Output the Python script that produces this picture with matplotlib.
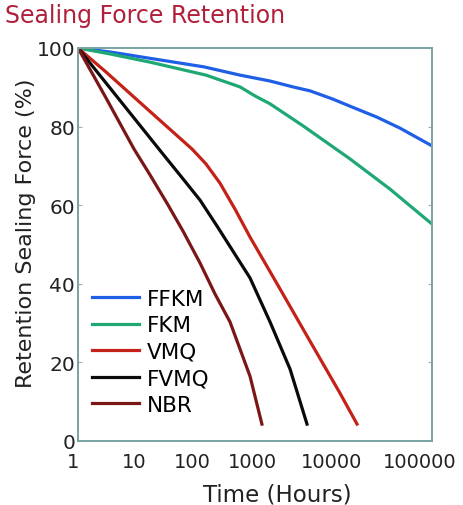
import numpy as np
import matplotlib
matplotlib.use("Agg")
import matplotlib.pyplot as plt
from matplotlib.transforms import ScaledTranslation

# ── data ───────────────────────────────────────────────────────────────────
ffkm_h = [1, 3.7, 13.7, 158, 631, 1680, 3250, 5310, 10200, 15100, 28200, 47900, 100000]
ffkm_v = [100, 99.0, 97.7, 95.2, 93.1, 91.6, 90.1, 89.1, 87.0, 85.2, 82.4, 79.6, 75.1]

fkm_h = [1, 3.7, 18.9, 171, 631, 1090, 1680, 4340, 15100, 38000, 100000]
fkm_v = [100, 98.5, 96.4, 93.1, 90.1, 87.8, 85.8, 80.2, 71.8, 64.1, 55.2]

vmq_h = [1, 3.16, 10, 31.6, 100, 171, 293, 521, 926, 2240, 5310, 12000, 17800]
vmq_v = [100, 93.9, 87.5, 80.9, 74.3, 70.5, 65.6, 59.0, 51.9, 38.7, 25.4, 12.2, 4.3]

fvmq_h = [1, 3.16, 10, 31.6, 70, 136, 261, 482, 926, 1680, 2990, 4870]
fvmq_v = [100, 91.1, 82.2, 73.0, 66.7, 61.3, 54.7, 48.3, 41.5, 30.3, 18.3, 4.3]

nbr_h = [1, 3.16, 10, 18.9, 38.5, 70, 136, 242, 430, 926, 1330]
nbr_v = [100, 87.3, 74.3, 67.7, 60.1, 53.4, 45.3, 37.4, 30.3, 16.5, 4.3]

x_ticks = [1, 10, 100, 1000, 10000, 100000]
x_ticklabels = ["1", "10", "100", "1000", "10000", "100000"]
y_ticks = [0, 20, 40, 60, 80, 100]

# ── decade spacing of the original axis (uneven, stretched on the right) ──
DEC = np.array([-5, 0, 1, 2, 3, 4, 5, 10], dtype=float)
POS = np.array([-280, 0, 56, 114, 174, 254, 354, 854], dtype=float)

def fwd(x):
    x = np.clip(np.asarray(x, dtype=float), 1e-12, None)
    return np.interp(np.log10(x), DEC, POS)

def inv(p):
    return 10 ** np.interp(np.asarray(p, dtype=float), POS, DEC)

series = [
    ("FFKM", ffkm_h, ffkm_v, "#1f5fe6"),
    ("FKM",  fkm_h,  fkm_v,  "#1fa874"),
    ("VMQ",  vmq_h,  vmq_v,  "#c42219"),
    ("FVMQ", fvmq_h, fvmq_v, "#0a0a0a"),
    ("NBR",  nbr_h,  nbr_v,  "#7a1616"),
]

fig = plt.figure(figsize=(4.64, 5.06), dpi=100)
ax = fig.add_axes([78 / 464, 1 - 442 / 506, 354 / 464, 393 / 506])

for name, h, v, c in series:
    ax.plot(h, v, color=c, linewidth=2.3, label=name, solid_joinstyle="round")

ax.set_xscale("function", functions=(fwd, inv))
ax.set_xlim(1, 100000)
ax.set_ylim(0, 100)
ax.set_xticks(x_ticks)
ax.set_xticklabels(x_ticklabels)
ax.xaxis.set_minor_locator(plt.NullLocator())
ax.set_yticks(y_ticks)

for s in ax.spines.values():
    s.set_color("#7aa3a3")
    s.set_linewidth(1.4)

ax.tick_params(axis="x", length=0, labelsize=14, pad=8, labelcolor="#222")
ax.tick_params(axis="y", direction="in", length=3, right=True, color="#aaaaaa",
               labelsize=14.5, pad=2, labelcolor="#222")

# nudge end labels like the original
lbls = ax.get_xticklabels()
lbls[0].set_transform(lbls[0].get_transform() + ScaledTranslation(-5 / 100, 0, fig.dpi_scale_trans))
lbls[-1].set_transform(lbls[-1].get_transform() + ScaledTranslation(-12 / 100, 0, fig.dpi_scale_trans))

ax.set_xlabel("Time (Hours)", fontsize=16.5, color="#222")
ax.xaxis.set_label_coords((277 - 78) / 354, -0.105)
ax.set_ylabel("Retention Sealing Force (%)", fontsize=16, color="#222")
ax.yaxis.set_label_coords(-0.12, (442 - 233) / 393)

fig.text(5 / 464, 1 - 16 / 506, "Sealing Force Retention", fontsize=17,
         color="#b0203a", ha="left", va="center")

ax.legend(loc="upper left", bbox_to_anchor=((92 - 78) / 354, (442 - 290) / 393),
          frameon=False, fontsize=15.5, handlelength=2.2, handletextpad=0.35,
          labelspacing=0.3, borderaxespad=0, borderpad=0)

fig.savefig("out.png", dpi=100)
